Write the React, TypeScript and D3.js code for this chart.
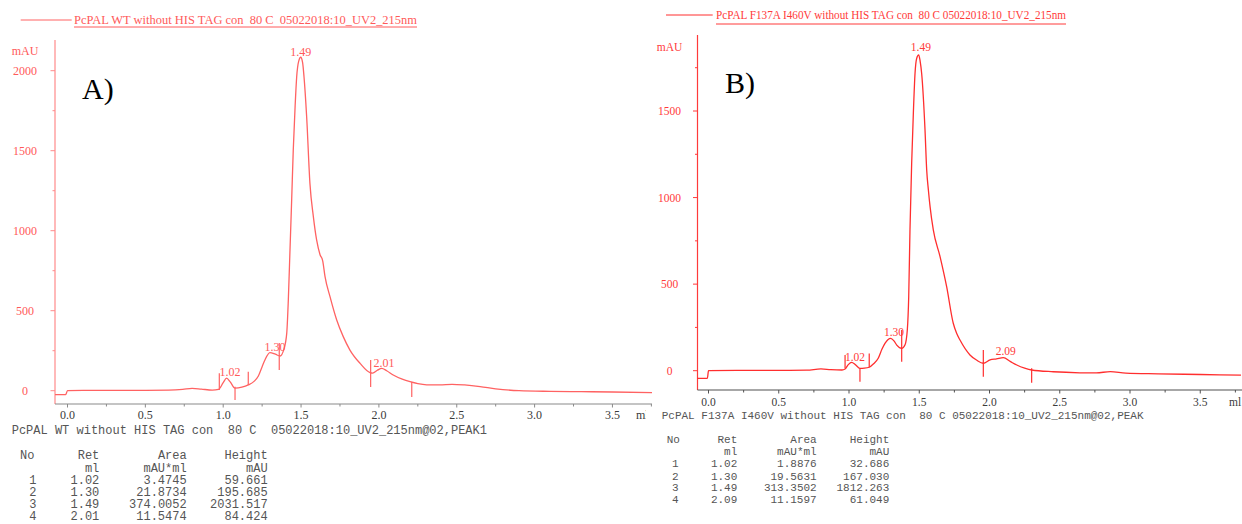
import React from 'react';
import * as d3 from 'd3';

// ---------- DATA ----------
const legendA = 'PcPAL WT without HIS TAG con  80 C  05022018:10_UV2_215nm';
const legendB = 'PcPAL F137A I460V without HIS TAG con  80 C 05022018:10_UV2_215nm';
const subtitleA = 'PcPAL WT without HIS TAG con  80 C  05022018:10_UV2_215nm@02,PEAK1';
const subtitleB = 'PcPAL F137A I460V without HIS TAG con  80 C 05022018:10_UV2_215nm@02,PEAK';

const xTickValues = [0, 0.5, 1, 1.5, 2, 2.5, 3, 3.5];
const xMinorValues = [0.25, 0.75, 1.25, 1.75, 2.25, 2.75, 3.25, 3.75];
const yTicksA = [0, 500, 1000, 1500, 2000];
const yMinorA = [250, 750, 1250, 1750];
const yTicksB = [0, 500, 1000, 1500];
const yMinorB = [250, 750, 1250, 1750];

// Chromatogram A (ml, mAU)
const aMl = [-0.08, -0.012, 0.0, 0.1, 0.3, 0.5, 0.65, 0.74, 0.8, 0.86, 0.93, 0.97, 1.0, 1.022, 1.045, 1.076, 1.12, 1.161, 1.2, 1.225, 1.25, 1.268, 1.3, 1.335, 1.365, 1.39, 1.408, 1.418, 1.429, 1.44, 1.45, 1.462, 1.472, 1.485, 1.498, 1.51, 1.519, 1.536, 1.557, 1.579, 1.6, 1.622, 1.639, 1.654, 1.686, 1.729, 1.771, 1.814, 1.879, 1.943, 1.96, 1.99, 2.018, 2.05, 2.092, 2.15, 2.2, 2.25, 2.307, 2.39, 2.47, 2.55, 2.65, 2.75, 2.9, 3.1, 3.3, 3.5, 3.76];
const aMau = [-25, -25, 0, 2, 2, 2, 3, 8, 15, 10, 4, 8, 50, 78, 55, 16, 22, 36, 60, 90, 150, 192, 238, 228, 217, 260, 358, 560, 880, 1200, 1504, 1780, 1962, 2060, 2084, 2050, 1962, 1712, 1296, 1088, 942, 850, 812, 713, 588, 442, 338, 254, 171, 113, 110, 128, 140, 125, 98, 72, 56, 44, 37, 36, 40, 36, 26, 12, 0, -4, -6, -8, -12];

// Chromatogram B (ml, mAU)
const bMl = [-0.082, -0.008, 0.0, 0.2, 0.5, 0.7, 0.8, 0.87, 0.95, 0.972, 0.995, 1.019, 1.045, 1.078, 1.11, 1.144, 1.175, 1.208, 1.235, 1.256, 1.297, 1.32, 1.34, 1.375, 1.399, 1.415, 1.425, 1.434, 1.446, 1.458, 1.47, 1.482, 1.496, 1.506, 1.517, 1.541, 1.553, 1.565, 1.577, 1.6, 1.648, 1.695, 1.742, 1.766, 1.79, 1.861, 1.91, 1.956, 2.004, 2.05, 2.098, 2.15, 2.194, 2.25, 2.3, 2.454, 2.644, 2.76, 2.86, 2.97, 3.2, 3.5, 3.79];
const bMau = [-44, -44, 0, 2, 2, 3, 10, 6, 4, 10, 35, 48, 35, 14, 15, 20, 40, 72, 125, 158, 187, 172, 148, 129, 150, 235, 427, 813, 1198, 1487, 1718, 1805, 1824, 1790, 1718, 1391, 1159, 1044, 948, 813, 659, 485, 274, 216, 177, 91, 60, 43, 62, 68, 75, 52, 33, 15, 4, -6, -12, -13, -5, -14, -18, -22, -26];

// Peak integration markers: [ml, mAU from, mAU to]
const aMarkers = [[0.975, 109, 4], [1.076, 25, -58], [1.161, 119, 36], [1.36, 298, 129], [1.947, 192, 23], [2.211, 54, -39]];
const bMarkers = [[0.972, 90, 14], [1.078, 14, -64], [1.144, 100, 20], [1.375, 235, 52], [1.956, 120, -35], [2.3, 14, -69]];

// Peak labels: text, ml, mAU (label anchor)
const aPeakText = ['1.02', '1.30', '1.49', '2.01'];
const aPeakMl = [1.044, 1.333, 1.498, 2.033];
const aPeakMau = [95, 251, 2092, 148];
const bPeakText = ['1.02', '1.30', '1.49', '2.09'];
const bPeakMl = [1.043, 1.32, 1.512, 2.116];
const bPeakMau = [58, 202, 1849, 91];

// Peak tables
const tableHeader1 = ['No', 'Ret', 'Area', 'Height'];
const tableHeader2 = ['', 'ml', 'mAU*ml', 'mAU'];
const tableNo = ['1', '2', '3', '4'];
const aRet = ['1.02', '1.30', '1.49', '2.01'];
const aArea = ['3.4745', '21.8734', '374.0052', '11.5474'];
const aHeight = ['59.661', '195.685', '2031.517', '84.424'];
const bRet = ['1.02', '1.30', '1.49', '2.09'];
const bArea = ['1.8876', '19.5631', '313.3502', '11.1597'];
const bHeight = ['32.686', '167.030', '1812.263', '61.049'];

// ---------- LAYOUT ----------
const SERIF = '"Liberation Serif", "Times New Roman", serif';
const MONO = '"Liberation Mono", "Courier New", monospace';

type PanelCfg = {
  id: string;
  x0: number; xPx35: number; y0: number; yTopVal: number; yTopPx: number;
  yAxisX: number; yAxisTop: number; xAxisY: number; xAxisRight: number;
  clipLeft: number; clipRight: number; textClipRight: number;
  yTicks: number[]; yMinor: number[];
  curveColor: string; axisColor: string; textColor: string; xAxisColor: string;
  yLabelCx: number; tickFont: number; peakFont: number;
  xLabelBaseline: number; mlLabelX: number;
  mAUy: number;
  legendLine: [number, number, number]; legendText: string; legendX: number; legendW: number; legendBase: number; legendUnder: number;
  bigLabel: string; bigX: number; bigY: number;
  ml: number[]; mau: number[]; markers: number[][];
  peakText: string[]; peakMl: number[]; peakMau: number[];
  subtitle: string; subX: number; subY: number; monoFont: number;
  colEnds: number[]; noRight: number; noLeft: number; rowYs: number[];
  ret: string[]; area: string[]; height: string[];
};

const panels: PanelCfg[] = [
  {
    id: 'A', x0: 67.5, xPx35: 67.5 + 3.5 * 155.7, y0: 390.7, yTopVal: 2000, yTopPx: 70.7,
    yAxisX: 55, yAxisTop: 40, xAxisY: 404, xAxisRight: 652, clipLeft: 0, clipRight: 652, textClipRight: 646,
    yTicks: yTicksA, yMinor: yMinorA,
    curveColor: '#ff6262', axisColor: '#ff8a8a', textColor: '#ff5a5a', xAxisColor: '#8a8a8a',
    yLabelCx: 25, tickFont: 12, peakFont: 12, xLabelBaseline: 418.5, mlLabelX: 636,
    mAUy: 55,
    legendLine: [20.7, 71.7, 20], legendText: legendA, legendX: 74, legendW: 343, legendBase: 27.5, legendUnder: 27,
    bigLabel: 'A)', bigX: 82, bigY: 99,
    ml: aMl, mau: aMau, markers: aMarkers, peakText: aPeakText, peakMl: aPeakMl, peakMau: aPeakMau,
    subtitle: subtitleA, subX: 11.7, subY: 434, monoFont: 12,
    colEnds: [99.3, 186.7, 267.7], noRight: 36.5, noLeft: 20, rowYs: [459, 471.5, 484, 496, 508, 520],
    ret: aRet, area: aArea, height: aHeight,
  },
  {
    id: 'B', x0: 708.5, xPx35: 708.5 + 3.5 * 140.5, y0: 370.7, yTopVal: 1500, yTopPx: 111,
    yAxisX: 697.5, yAxisTop: 35, xAxisY: 390, xAxisRight: 1242, clipLeft: 652, clipRight: 1242, textClipRight: 1242,
    yTicks: yTicksB, yMinor: yMinorB,
    curveColor: '#ff2e2e', axisColor: '#ff3a3a', textColor: '#ff3a3a', xAxisColor: '#505050',
    yLabelCx: 669.5, tickFont: 11.5, peakFont: 11.5, xLabelBaseline: 405.5, mlLabelX: 1229,
    mAUy: 50.5,
    legendLine: [666, 712.7, 15], legendText: legendB, legendX: 716, legendW: 350, legendBase: 22.5, legendUnder: 24,
    bigLabel: 'B)', bigX: 725, bigY: 93,
    ml: bMl, mau: bMau, markers: bMarkers, peakText: bPeakText, peakMl: bPeakMl, peakMau: bPeakMau,
    subtitle: subtitleB, subX: 661.7, subY: 419, monoFont: 11,
    colEnds: [737.3, 816.7, 889.3], noRight: 678.5, noLeft: 666.7, rowYs: [443, 455.3, 467.3, 479.5, 491.3, 503],
    ret: bRet, area: bArea, height: bHeight,
  },
];

function Panel({ c }: { c: PanelCfg }) {
  const x = d3.scaleLinear().domain([0, 3.5]).range([c.x0, c.xPx35]);
  const y = d3.scaleLinear().domain([0, c.yTopVal]).range([c.y0, c.yTopPx]);
  const pts: [number, number][] = c.ml.map((m, i) => [m, c.mau[i]]);
  const line = d3.line<[number, number]>().x(d => x(d[0])).y(d => y(d[1])).curve(d3.curveMonotoneX);
  const clipId = `clip${c.id}`;
  const textClip = `tclip${c.id}`;
  return (
    <g>
      <defs>
        <clipPath id={clipId}><rect x={c.clipLeft} y={0} width={c.clipRight - c.clipLeft} height={524} /></clipPath>
        <clipPath id={textClip}><rect x={c.clipLeft} y={0} width={c.textClipRight - c.clipLeft} height={524} /></clipPath>
      </defs>
      <g clipPath={`url(#${clipId})`}>
        {/* legend */}
        <line x1={c.legendLine[0]} x2={c.legendLine[1]} y1={c.legendLine[2]} y2={c.legendLine[2]} stroke={c.curveColor} strokeWidth={1} />
        <text x={c.legendX} y={c.legendBase - 4} fontFamily={SERIF} fontSize={12.5} fill={c.textColor}
          textLength={c.legendW} lengthAdjust="spacingAndGlyphs" style={{ whiteSpace: 'pre' }}>{c.legendText}</text>
        <line x1={c.legendX} x2={c.legendX + c.legendW} y1={c.legendUnder} y2={c.legendUnder} stroke={c.textColor} strokeWidth={1} />

        {/* y axis */}
        <line x1={c.yAxisX} x2={c.yAxisX} y1={c.yAxisTop} y2={c.xAxisY} stroke={c.axisColor} strokeWidth={1.2} />
        {c.yTicks.map(t => (
          <g key={'yt' + t}>
            <line x1={c.yAxisX - 4.5} x2={c.yAxisX} y1={y(t)} y2={y(t)} stroke={c.axisColor} strokeWidth={1} />
            <text x={c.yLabelCx} y={y(t) + 4} textAnchor="middle" fontFamily={SERIF} fontSize={c.tickFont} fill={c.textColor}>{t}</text>
          </g>
        ))}
        {c.yMinor.map(t => (
          <line key={'ym' + t} x1={c.yAxisX - 2.5} x2={c.yAxisX} y1={y(t)} y2={y(t)} stroke={c.axisColor} strokeWidth={1} />
        ))}
        <text x={c.yLabelCx} y={c.mAUy} textAnchor="middle" fontFamily={SERIF} fontSize={c.tickFont} fill={c.textColor}>mAU</text>

        {/* x axis */}
        <line x1={c.yAxisX} x2={c.xAxisRight} y1={c.xAxisY} y2={c.xAxisY} stroke={c.xAxisColor} strokeWidth={1.2} />
        {xTickValues.map(t => (
          <g key={'xt' + t}>
            <line x1={x(t)} x2={x(t)} y1={c.xAxisY} y2={c.xAxisY + 3.5} stroke={c.xAxisColor} strokeWidth={1} />
            <text x={x(t)} y={c.xLabelBaseline} textAnchor="middle" fontFamily={SERIF} fontSize={c.tickFont} fill="#3a3a3a">{t.toFixed(1)}</text>
          </g>
        ))}
        {xMinorValues.map(t => (
          <line key={'xm' + t} x1={x(t)} x2={x(t)} y1={c.xAxisY} y2={c.xAxisY + 2.5} stroke={c.xAxisColor} strokeWidth={1} />
        ))}

        {/* curve */}
        <path d={line(pts) || ''} fill="none" stroke={c.curveColor} strokeWidth={1.3} />
        {c.markers.map((m, i) => (
          <line key={'mk' + i} x1={x(m[0])} x2={x(m[0])} y1={y(m[1])} y2={y(m[2])} stroke={c.curveColor} strokeWidth={1.2} />
        ))}
        {c.peakText.map((t, i) => (
          <text key={'pk' + i} x={x(c.peakMl[i])} y={y(c.peakMau[i])} textAnchor="middle" fontFamily={SERIF} fontSize={c.peakFont} fill={c.textColor}>{t}</text>
        ))}

        {/* big label */}
        <text x={c.bigX} y={c.bigY} fontFamily={SERIF} fontSize={30} fill="#000">{c.bigLabel}</text>
      </g>
      <g clipPath={`url(#${textClip})`}>
        <text x={c.mlLabelX} y={c.xLabelBaseline} fontFamily={SERIF} fontSize={c.tickFont} fill="#3a3a3a">ml</text>
      </g>

      {/* subtitle + table */}
      <text x={c.subX} y={c.subY} fontFamily={MONO} fontSize={c.monoFont} fill="#555" style={{ whiteSpace: 'pre' }}>{c.subtitle}</text>
      <text x={c.noLeft} y={c.rowYs[0]} fontFamily={MONO} fontSize={c.monoFont} fill="#555">{tableHeader1[0]}</text>
      {[1, 2, 3].map(k => (
        <g key={'h' + k}>
          <text x={c.colEnds[k - 1]} y={c.rowYs[0]} textAnchor="end" fontFamily={MONO} fontSize={c.monoFont} fill="#555">{tableHeader1[k]}</text>
          <text x={c.colEnds[k - 1]} y={c.rowYs[1]} textAnchor="end" fontFamily={MONO} fontSize={c.monoFont} fill="#555">{tableHeader2[k]}</text>
        </g>
      ))}
      {tableNo.map((n, i) => (
        <g key={'r' + i} fontFamily={MONO} fontSize={c.monoFont} fill="#555">
          <text x={c.noRight} y={c.rowYs[i + 2]} textAnchor="end">{n}</text>
          <text x={c.colEnds[0]} y={c.rowYs[i + 2]} textAnchor="end">{c.ret[i]}</text>
          <text x={c.colEnds[1]} y={c.rowYs[i + 2]} textAnchor="end">{c.area[i]}</text>
          <text x={c.colEnds[2]} y={c.rowYs[i + 2]} textAnchor="end">{c.height[i]}</text>
        </g>
      ))}
    </g>
  );
}

export default function App() {
  return (
    <svg width={1242} height={524} viewBox="0 0 1242 524"
      style={{ position: 'absolute', left: 0, top: 0, background: '#fff' }}>
      <rect x={0} y={0} width={1242} height={524} fill="#fff" />
      {panels.map(p => <Panel key={p.id} c={p} />)}
    </svg>
  );
}
